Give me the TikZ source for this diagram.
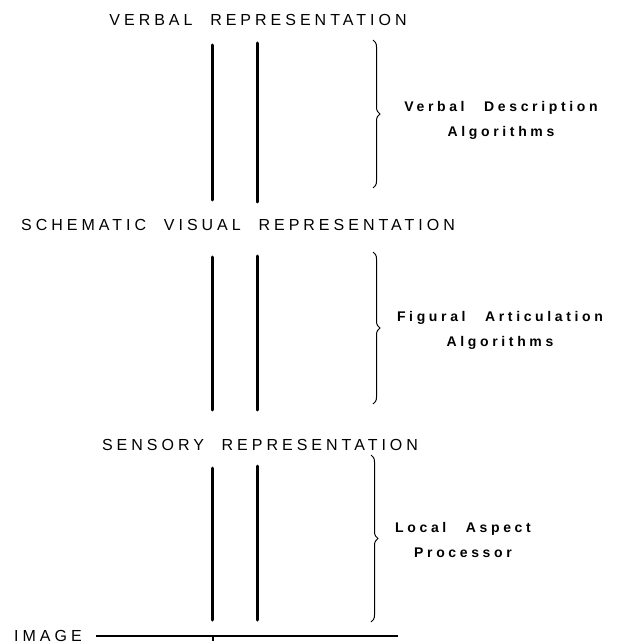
\documentclass[tikz,border=0pt]{standalone}
\usepackage{fontspec}
\setmainfont{Liberation Sans}
\newfontfamily\levelfont[LetterSpace=25,WordSpace=2.1]{Liberation Sans}
\newfontfamily\algofont[LetterSpace=26,WordSpace=2.6]{Liberation Sans}
\usetikzlibrary{decorations.pathreplacing,positioning}

\begin{document}
\begin{tikzpicture}
	[x=1pt,y=-1pt,
		% STYLES
		% The level style is used for the names of the representations
		level/.style={inner sep=0pt, font=\levelfont\fontsize{16}{18}\selectfont},
		% The algo style is used for the processes beside the braces
		algo/.style={inner sep=0pt, align=center,
				font=\algofont\bfseries\fontsize{14}{25}\selectfont},
		% The channel style is used for the double vertical lines
		channel/.style={line width=3pt, line cap=round},
		bracket/.style={decorate, decoration={brace, amplitude=7pt}, line width=1pt}]

	\useasboundingbox (0,0) rectangle (623,644);

	% Draw levels
	\node [level] (verbal) at (258,20) {VERBAL REPRESENTATION};
	\node [level] (schematic) at (238,225) {SCHEMATIC VISUAL REPRESENTATION};
	\node [level] (sensory) at (260,445) {SENSORY REPRESENTATION};
	\node [level, anchor=west] (image) at (14,636) {IMAGE};

	% Channels between the levels
	\coordinate (a1) at (212,45);   \coordinate (a2) at (212,200);
	\coordinate (b1) at (257,43);   \coordinate (b2) at (257,202);
	\coordinate (c1) at (212,257);  \coordinate (c2) at (212,410);
	\coordinate (d1) at (257,256);  \coordinate (d2) at (257,410);
	\coordinate (e1) at (212,468);  \coordinate (e2) at (212,620);
	\coordinate (f1) at (257,466);  \coordinate (f2) at (257,620);

	\path[channel]
	(a1) edge (a2)
	(b1) edge (b2)
	(c1) edge (c2)
	(d1) edge (d2)
	(e1) edge (e2)
	(f1) edge (f2);

	% Image line
	\coordinate (imgend) at (398,636);
	\coordinate (tick) at (213,641);
	\draw[line width=1.3pt, shorten <=14pt] (image.east) -- (imgend);
	\draw[line width=1.5pt] (213,636) -- (tick);

	%%%%%%%%%%%%%%%
	% Braces and algorithms

	% VERBAL
	\draw[bracket] (373,40) -- (373,188) coordinate (br1);
	\node [algo] (desc) at (501,120) {Verbal Description\\Algorithms};

	% SCHEMATIC
	\draw[bracket] (373,252) -- (373,404) coordinate (br2);
	\node [algo] (figural) at (500,330) {Figural Articulation\\Algorithms};

	% SENSORY
	\draw[bracket] (371,455) -- (371,622) coordinate (br3);
	\node [algo] (local) at (463,540) {Local Aspect\\Processor};

\end{tikzpicture}
\end{document}
